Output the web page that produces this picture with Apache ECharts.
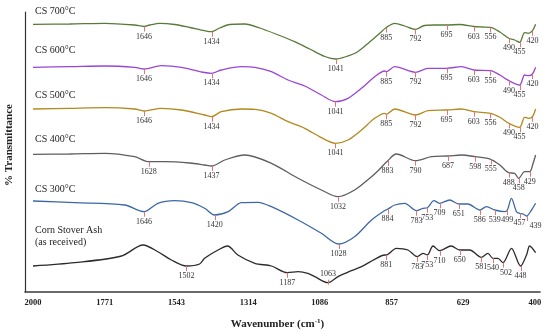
<!DOCTYPE html>
<html><head><meta charset="utf-8">
<script src="https://cdn.jsdelivr.net/npm/echarts@6/dist/echarts.min.js"></script>
<style>html,body{margin:0;padding:0;background:#fff}#c{width:550px;height:334px}</style>
</head><body><div id="c"></div>
<script>
// x-axis tick labels (wavenumber, cm-1)
const xTicks = [2000, 1771, 1543, 1314, 1086, 857, 629, 400];

// Stacked spectra, [wavenumber, offset transmittance]
const cs700 = [[2000,267.7],[1883,268],[1771,268.7],[1676,267],[1646,265.5],[1628,267],[1596,268.7],[1548,267.5],[1500,264.5],[1453,261.3],[1431,260.3],[1405,264],[1373,267.5],[1325,268],[1277,264],[1214,256.5],[1166,250.3],[1118,243],[1070,235.5],[1035,233],[1006,235],[965,240.3],[927,250],[901,257],[874,264.5],[847,268.7],[815,266],[781,262.7],[752,266.5],[720,267],[682,267],[640,267.5],[595,265.5],[570,265],[542,264.7],[512,260],[483,253.7],[465,252],[449,249.7],[433,259.3],[421,258.7],[408,261.3],[398,267.7]];
const cs600 = [[2000,224.7],[1883,225.3],[1771,226],[1676,224.7],[1646,223],[1591,226.3],[1527,224.7],[1453,219.5],[1431,218.7],[1400,222],[1336,225.3],[1293,224.7],[1240,220.3],[1187,212],[1134,206],[1081,197],[1036,190.3],[996,193.7],[953,203.7],[911,215.3],[879,221],[874,220.3],[847,225.3],[781,219.7],[741,223.7],[682,223.7],[635,225.3],[595,222],[542,221.3],[512,217],[483,211.3],[449,207],[433,217],[420,216.3],[408,218],[398,224.7]];
const cs500 = [[2000,183],[1883,183.7],[1771,184.3],[1676,183],[1646,181],[1591,183.7],[1527,182],[1453,177],[1431,175.3],[1400,180.3],[1336,183],[1293,182.7],[1240,178.7],[1187,170.3],[1134,163.7],[1081,154.3],[1036,148.7],[996,152],[953,162],[911,173.7],[879,178.7],[874,177.7],[847,183],[781,177],[741,181.3],[682,182],[635,183],[595,180.3],[542,178.7],[512,174.7],[483,168.7],[449,164.7],[433,174.7],[420,173.7],[408,175.3],[398,183]];
const cs400 = [[2000,137.7],[1883,138],[1771,138.7],[1676,135.3],[1631,130.3],[1580,130.3],[1500,129],[1453,127],[1431,126],[1389,132],[1325,137],[1240,128.7],[1155,113.7],[1081,102],[1028,95.3],[975,102],[921,115.3],[901,121],[870,131],[842,138],[781,131.3],[730,135.3],[677,136],[635,137],[590,135.3],[541,132.7],[512,127],[484,119.3],[465,118.7],[452,113.7],[433,120.3],[417,120.3],[406,128.7],[398,137]];
const cs300 = [[2000,91],[1867,89.3],[1708,87],[1646,80.3],[1602,88.7],[1548,91.3],[1495,89.3],[1453,83.7],[1421,77],[1378,80.3],[1336,89.3],[1283,89.7],[1240,85.3],[1155,72],[1081,58.7],[1026,48],[975,55.3],[921,72],[879,81.5],[870,82.7],[847,87],[815,88.7],[778,81.3],[757,83.7],[743,84.3],[722,91.3],[704,88.7],[672,92],[643,88],[614,88],[576,82],[555,85.3],[528,82],[497,80.3],[488,82],[475,93.7],[459,80.3],[449,78.7],[438,78],[427,76],[411,82],[398,88.7]];
const cornAsh = [[2000,26],[1867,29.3],[1718,36],[1649,47],[1602,40.3],[1559,32],[1511,26],[1469,28],[1453,33.7],[1410,42],[1380,46],[1347,37],[1293,28.7],[1240,26],[1189,19.3],[1155,20.3],[1124,18.7],[1102,15.3],[1060,9.3],[1028,15.3],[985,21.3],[953,25.3],[911,32.7],[879,37],[874,37],[842,43.7],[805,42],[775,35.3],[757,38.7],[743,37],[725,46],[704,41.3],[667,46],[640,42],[608,42],[571,34.7],[550,38.7],[534,33.7],[518,33.7],[502,29.3],[475,43.7],[446,26],[427,37],[417,46],[398,39.3]];

// Peak annotations: positions on the axis and their printed labels
const cs700PeakPos = [1646,1431,1035,874,781,682,595,542,483,449,408];
const cs700PeakText = ['1646','1434','1041','885','792','695','603','556','490','455','420'];
const cs600PeakPos = [1646,1431,1036,874,781,682,595,542,483,449,408];
const cs600PeakText = ['1646','1434','1041','885','792','695','603','556','490','455','420'];
const cs500PeakPos = [1646,1431,1036,874,781,682,595,542,483,449,408];
const cs500PeakText = ['1646','1434','1041','885','792','695','603','556','490','455','420'];
const cs400PeakPos = [1631,1431,1028,870,781,677,590,541,484,452,417];
const cs400PeakText = ['1628','1437','1032','883','790','687','598','555','488','458','429'];
const cs300PeakPos = [1646,1421,1026,870,778,743,704,643,576,528,488,449,427];
const cs300PeakText = ['1646','1420','1028','884','783','753','709','651','586','539','499','457','439'];
const cornPeakPos = [1511,1189,1060,874,775,743,704,640,571,534,502,446];
const cornPeakText = ['1502','1187','1063','881','783','753','710','650','581','540','502','448'];

const seriesNames = ['CS 700°C','CS 600°C','CS 500°C','CS 400°C','CS 300°C','Corn Stover Ash'];

// styling
const colors = ['#587a38','#9a46d4','#b2891c','#5e5e5e','#3b68a6','#2b2b2b'];
const labelAbove = {'1063': true};
const labelDx = {'439': 9, '502': 3};
const nameLabelY = [11.7, 50.7, 95, 139, 189.3, 230.7];

const curves = [cs700, cs600, cs500, cs400, cs300, cornAsh];
const peakPos = [cs700PeakPos, cs600PeakPos, cs500PeakPos, cs400PeakPos, cs300PeakPos, cornPeakPos];
const peakText = [cs700PeakText, cs600PeakText, cs500PeakText, cs400PeakText, cs300PeakText, cornPeakText];

function interp(data, w) {
  for (let i = 0; i < data.length - 1; i++) {
    const a = data[i], b = data[i + 1];
    if (w <= a[0] && w >= b[0]) {
      const t = (a[0] - w) / (a[0] - b[0]);
      return a[1] + (b[1] - a[1]) * t;
    }
  }
  return data[data.length - 1][1];
}

const series = [];
curves.forEach((d, i) => {
  series.push({
    type: 'line', name: seriesNames[i], data: d, showSymbol: false, smooth: 0.3,
    lineStyle: { color: colors[i], width: 1.3 }, silent: true, z: 3
  });
  const texts = peakText[i];
  series.push({
    type: 'custom', silent: true, z: 4,
    data: peakPos[i].map(w => [w, interp(d, w)]),
    encode: { x: 0, y: 1 },
    renderItem: function (params, api) {
      const p = api.coord([api.value(0), api.value(1)]);
      const txt = texts[params.dataIndex];
      const above = !!labelAbove[txt];
      const dx = labelDx[txt] || 0;
      const x = Math.round(p[0]) + 0.5;
      return {
        type: 'group',
        children: [
          { type: 'line', shape: { x1: x, y1: p[1] + (above ? -3 : 0), x2: x, y2: p[1] + (above ? 2 : 5) },
            style: { stroke: '#e8736f', lineWidth: 1 } },
          { type: 'text', x: p[0] + dx, y: p[1] + (above ? -9 : 10),
            style: { text: txt, align: 'center', verticalAlign: 'middle', font: '8px "Liberation Serif"', fill: '#333' } }
        ]
      };
    }
  });
});

const graphic = seriesNames.map((n, i) => ({
  type: 'text', x: 35, y: nameLabelY[i], silent: true,
  style: { text: n, verticalAlign: 'middle', font: '10px "Liberation Serif"', fill: '#222' }
}));
graphic.push({ type: 'text', x: 35, y: 242.7, silent: true,
  style: { text: '(as received)', verticalAlign: 'middle', font: '10px "Liberation Serif"', fill: '#222' } });
graphic.push({ type: 'text', x: 277.5, y: 324, silent: true,
  style: { text: 'Wavenumber (cm{s|-1})', align: 'center', verticalAlign: 'middle',
    font: 'bold 11px "Liberation Serif"', fill: '#222',
    rich: { s: { fontSize: 7, fontWeight: 'bold', fontFamily: 'Liberation Serif', verticalAlign: 'top', padding: [0, 0, 6, 0] } } } });
graphic.push({ type: 'text', x: 9, y: 145, rotation: Math.PI / 2, silent: true,
  style: { text: '% Transmittance', align: 'center', verticalAlign: 'middle', font: 'bold 11px "Liberation Serif"', fill: '#222' } });

const chart = echarts.init(document.getElementById('c'), null, { renderer: 'canvas' });
chart.setOption({
  animation: false,
  backgroundColor: '#fff',
  grid: { left: 25, right: 10, top: 12, bottom: 42 },
  xAxis: {
    type: 'value', inverse: true, min: 384, max: 2025.5,
    axisLine: { show: true, lineStyle: { color: '#3a3a3a', width: 1.6 } },
    axisTick: { show: false }, splitLine: { show: false },
    axisLabel: { customValues: xTicks, formatter: v => String(v), margin: 6, fontSize: 8.5, fontWeight: 'bold', fontFamily: 'Liberation Serif', color: '#222' }
  },
  yAxis: {
    type: 'value', min: 0, max: 280,
    axisLine: { show: true, lineStyle: { color: '#333', width: 1.2 } },
    axisTick: { show: false }, axisLabel: { show: false }, splitLine: { show: false }
  },
  graphic: graphic,
  series: series
});
</script>
</body></html>
